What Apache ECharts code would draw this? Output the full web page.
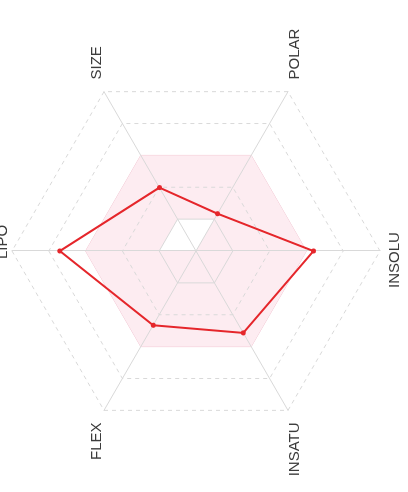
<!DOCTYPE html>
<html>
<head>
<meta charset="utf-8">
<script src="https://cdn.jsdelivr.net/npm/echarts@6/dist/echarts.min.js"></script>
<style>
  html, body { margin: 0; padding: 0; background: #fff; overflow: hidden; }
  body { width: 408px; height: 492px; position: relative; }
  /* the radar is laid out upright, then turned a quarter turn counter-clockwise */
  #chart {
    position: absolute;
    width: 492px; height: 408px;
    left: -42px; top: 42px;
    transform: rotate(-90deg);
    transform-origin: 50% 50%;
  }
</style>
</head>
<body>
<div id="chart"></div>
<script>
// Bioavailability radar: axes listed counter-clockwise starting from the top
const categories = ['LIPO', 'FLEX', 'INSATU', 'INSOLU', 'POLAR', 'SIZE'];
// compound profile (scale 0..5)
const scores = [3.70, 2.33, 2.57, 3.19, 1.17, 1.99];
// optimal range band per property
const optimalUpper = [3, 3, 3, 3, 3, 3];
const optimalLower = [1, 0, 0, 0, 1, 1];
const scaleMax = 5;

const GRID = '#d9d9d9';
const NONE = 'rgba(0,0,0,0)';
const indicators = categories.map(name => ({ name: name, min: 0, max: scaleMax }));
const topIdx = 0;
const bottomIdx = categories.length / 2;

const nameStyle = {
  color: '#3c3c3c',
  fontSize: 15,
  fontFamily: 'Liberation Sans, Arial, sans-serif'
};

// ring colours are listed from the centre outwards (index 0 is the centre itself)
const solidRings = [NONE, GRID, NONE, NONE, NONE, NONE];
const dashedRings = [NONE, NONE, GRID, NONE, GRID, GRID];

const chart = echarts.init(document.getElementById('chart'), null, { renderer: 'canvas' });
chart.setOption({
  backgroundColor: '#fff',
  animation: false,
  radar: [
    {
      // solid rings, spokes, and the side labels
      center: [241, 196],
      radius: 184,
      startAngle: 90,
      splitNumber: 5,
      shape: 'polygon',
      indicator: indicators,
      z: 2,
      nameGap: 14,
      axisName: Object.assign({}, nameStyle, {
        formatter: function (name) {
          const i = categories.indexOf(name);
          return (i === topIdx || i === bottomIdx) ? '' : name;
        }
      }),
      splitArea: { show: false },
      axisLine: { show: true, lineStyle: { color: GRID, width: 1 } },
      axisTick: { show: false },
      axisLabel: { show: false },
      splitLine: { show: true, lineStyle: { color: solidRings, width: 1, type: 'solid' } }
    },
    {
      // dashed rings, plus the labels on the vertical axis
      center: [241, 196],
      radius: 184,
      startAngle: 90,
      splitNumber: 5,
      shape: 'polygon',
      indicator: indicators,
      z: 2,
      nameGap: 2,
      axisName: Object.assign({}, nameStyle, {
        formatter: function (name) {
          const i = categories.indexOf(name);
          if (i === topIdx) return '{top|' + name + '}';
          if (i === bottomIdx) return '{bottom|' + name + '}';
          return '';
        },
        rich: {
          top: Object.assign({}, nameStyle, { padding: [0, 0, 0, 18] }),
          bottom: Object.assign({}, nameStyle, { padding: [5, 18, 0, 0] })
        }
      }),
      splitArea: { show: false },
      axisLine: { show: false },
      axisTick: { show: false },
      axisLabel: { show: false },
      splitLine: { show: true, lineStyle: { color: dashedRings, width: 1, type: [4, 4] } }
    }
  ],
  series: [
    {
      // optimal band (outer edge)
      type: 'radar',
      radarIndex: 0,
      z: 1,
      silent: true,
      symbol: 'none',
      data: [{
        value: optimalUpper,
        lineStyle: { color: '#f2c4d1', width: 1 },
        areaStyle: { color: '#fdecf1', opacity: 1 }
      }]
    },
    {
      // region below the optimal band's lower bounds
      type: 'radar',
      radarIndex: 0,
      z: 1,
      silent: true,
      symbol: 'none',
      data: [{
        value: optimalLower,
        lineStyle: { width: 0, opacity: 0 },
        areaStyle: { color: '#ffffff', opacity: 1 }
      }]
    },
    {
      type: 'radar',
      radarIndex: 0,
      z: 3,
      symbol: 'circle',
      symbolSize: 5,
      data: [{
        value: scores,
        lineStyle: { color: '#e5262b', width: 2 },
        itemStyle: { color: '#e5262b' }
      }]
    }
  ]
});
</script>
</body>
</html>
